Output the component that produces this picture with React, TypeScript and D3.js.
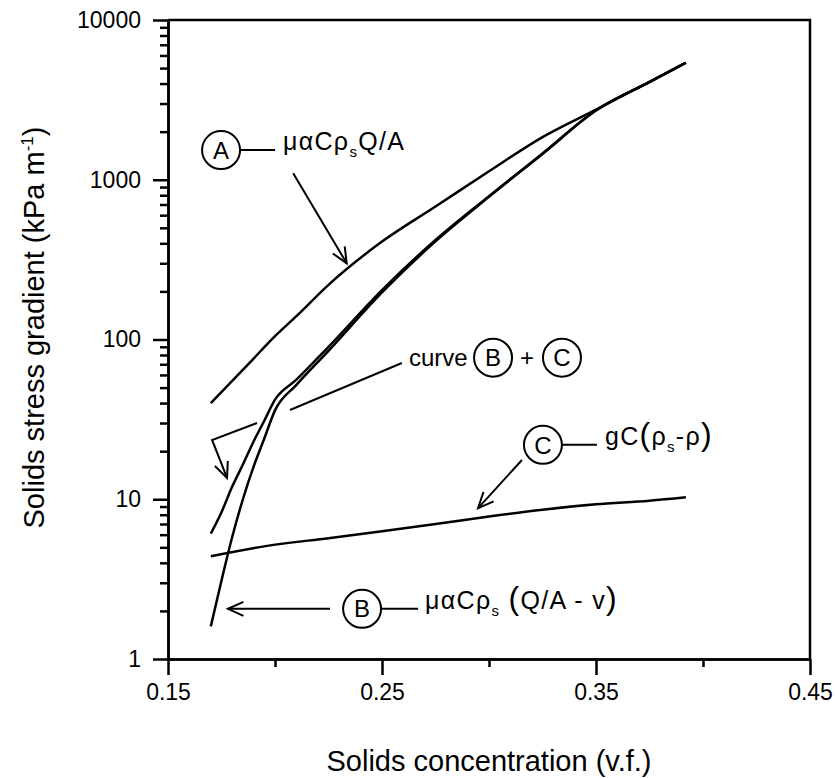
import { useEffect, useRef } from "react";
import * as d3 from "d3";

// curve A : muAlphaC rho_s Q/A
const concA = [0.17, 0.18, 0.19, 0.2, 0.21, 0.225, 0.25, 0.275, 0.3, 0.325, 0.35, 0.375, 0.392];
const gradA = [40, 55, 76, 105, 140, 220, 410, 680, 1130, 1850, 2750, 4100, 5400];

// curve B : muAlphaC rho_s (Q/A - v)
const concB = [0.17, 0.175, 0.18, 0.185, 0.19, 0.195, 0.2, 0.21, 0.225, 0.25, 0.275, 0.3, 0.325, 0.35, 0.375, 0.392];
const gradB = [1.6, 3.1, 5.8, 10, 16, 24, 36, 52, 85, 197, 412, 782, 1450, 2710, 4090, 5400];

// curve B + C
const concBC = [0.17, 0.175, 0.18, 0.185, 0.19, 0.195, 0.2, 0.21, 0.225, 0.25, 0.275, 0.3, 0.325, 0.35, 0.375, 0.392];
const gradBC = [6.1, 8.3, 12, 16.5, 23, 31, 42, 56, 90, 204, 420, 790, 1460, 2720, 4095, 5400];

// curve C : gC(rho_s - rho)
const concC = [0.17, 0.2, 0.225, 0.25, 0.275, 0.3, 0.325, 0.35, 0.375, 0.392];
const gradC = [4.4, 5.2, 5.7, 6.3, 7.0, 7.8, 8.6, 9.3, 9.8, 10.3];

const xMajor = [0.15, 0.25, 0.35, 0.45];
const xMinor = [0.2, 0.3, 0.4];
const yMajor = [1, 10, 100, 1000, 10000];
const yMinor = [1, 10, 100, 1000].flatMap((d) => [2, 3, 4, 5, 6, 7, 8, 9].map((k) => k * d));

const W = 835;
const H = 778;
const dims = { left: 168, right: 810, top: 20, bottom: 659 };
const FONT = "'Liberation Sans', Arial, sans-serif";

export default function App() {
  const ref = useRef<SVGSVGElement>(null);

  useEffect(() => {
    const svg = d3.select(ref.current);
    svg.selectAll("*").remove();

    const x = d3.scaleLinear().domain([0.15, 0.45]).range([dims.left, dims.right]);
    const y = d3.scaleLog().domain([1, 10000]).range([dims.bottom, dims.top]);

    // frame top + right
    svg
      .append("path")
      .attr("d", `M${dims.left},${dims.top}H${dims.right}V${dims.bottom}`)
      .attr("fill", "none")
      .attr("stroke", "black")
      .attr("stroke-width", 2.5);

    const styleAxis = (g: any) => {
      g.selectAll("path,line").attr("stroke", "black").attr("stroke-width", 2.5);
      g.selectAll("text").attr("font-family", FONT).attr("font-size", 23).attr("fill", "black");
    };

    svg
      .append("g")
      .attr("transform", `translate(${dims.left},0)`)
      .call(d3.axisLeft(y).tickValues(yMinor).tickSize(8).tickSizeOuter(0).tickFormat(() => ""))
      .call(styleAxis);
    svg
      .append("g")
      .attr("transform", `translate(${dims.left},0)`)
      .call(d3.axisLeft(y).tickValues(yMajor).tickSize(15).tickSizeOuter(0).tickPadding(12).tickFormat(d3.format("d")))
      .call(styleAxis);

    svg
      .append("g")
      .attr("transform", `translate(0,${dims.bottom})`)
      .call(d3.axisBottom(x).tickValues(xMinor).tickSize(8).tickSizeOuter(0).tickFormat(() => ""))
      .call(styleAxis);
    svg
      .append("g")
      .attr("transform", `translate(0,${dims.bottom})`)
      .call(d3.axisBottom(x).tickValues(xMajor).tickSize(16).tickSizeOuter(0).tickPadding(9).tickFormat(d3.format(".2f")))
      .call(styleAxis);

    // axis titles
    svg
      .append("text")
      .attr("x", (dims.left + dims.right) / 2)
      .attr("y", 771)
      .attr("text-anchor", "middle")
      .attr("font-family", FONT)
      .attr("font-size", 29)
      .text("Solids concentration (v.f.)");

    const yt = svg
      .append("text")
      .attr("transform", `translate(44,${(dims.top + dims.bottom) / 2 - 12}) rotate(-90)`)
      .attr("text-anchor", "middle")
      .attr("font-family", FONT)
      .attr("font-size", 29);
    yt.append("tspan").text("Solids stress gradient (kPa m");
    yt.append("tspan").attr("font-size", 17).attr("dy", -11).text("-1");
    yt.append("tspan").attr("dy", 11).text(")");

    // curves
    const line = d3
      .line<[number, number]>()
      .x((d) => x(d[0]))
      .y((d) => y(d[1]))
      .curve(d3.curveMonotoneX);

    const series: [number[], number[]][] = [
      [concA, gradA],
      [concB, gradB],
      [concBC, gradBC],
      [concC, gradC],
    ];
    series.forEach(([xs, ys]) => {
      svg
        .append("path")
        .attr("d", line(xs.map((v, i) => [v, ys[i]] as [number, number])))
        .attr("fill", "none")
        .attr("stroke", "black")
        .attr("stroke-width", 2.5)
        .attr("stroke-linejoin", "round");
    });

    // annotations
    const stroke = (sel: any) => sel.attr("stroke", "black").attr("stroke-width", 2).attr("fill", "none");

    const arrowHead = (x0: number, y0: number, x1: number, y1: number) => {
      const a = Math.atan2(y1 - y0, x1 - x0);
      const len = 17;
      const spread = 0.42;
      const p1 = [x1 - len * Math.cos(a - spread), y1 - len * Math.sin(a - spread)];
      const p2 = [x1 - len * Math.cos(a + spread), y1 - len * Math.sin(a + spread)];
      svg
        .append("path")
        .attr("d", `M${p1[0]},${p1[1]}L${x1},${y1}L${p2[0]},${p2[1]}`)
        .call(stroke);
    };

    const arrow = (pts: [number, number][]) => {
      const px = pts.map((p) => [x(p[0]), y(p[1])]);
      svg
        .append("path")
        .attr("d", d3.line()(px as [number, number][]))
        .call(stroke);
      const n = px.length;
      arrowHead(px[n - 2][0], px[n - 2][1], px[n - 1][0], px[n - 1][1]);
    };

    const circled = (cx: number, cy: number, letter: string) => {
      svg.append("circle").attr("cx", cx).attr("cy", cy).attr("r", 19).call(stroke);
      svg
        .append("text")
        .attr("x", cx)
        .attr("y", cy)
        .attr("dy", "0.36em")
        .attr("text-anchor", "middle")
        .attr("font-family", FONT)
        .attr("font-size", 24)
        .text(letter);
    };

    type Part = { t: string; sub?: boolean; big?: boolean };
    const formula = (tx: number, ty: number, parts: Part[]) => {
      const t = svg
        .append("text")
        .attr("x", tx)
        .attr("y", ty)
        .attr("dy", "0.36em")
        .attr("font-family", FONT)
        .attr("font-size", 25)
        .attr("letter-spacing", 1.3);
      let shifted = 0;
      parts.forEach((p) => {
        const s = t.append("tspan").text(p.t);
        const want = p.sub ? 7 : 0;
        s.attr("dy", want - shifted);
        shifted = want;
        if (p.sub) s.attr("font-size", 15);
        if (p.big) s.attr("font-size", 32);
      });
    };

    // A
    {
      const cx = x(0.1748);
      const cy = y(1535);
      circled(cx, cy, "A");
      svg.append("line").attr("x1", cx + 19).attr("y1", cy).attr("x2", cx + 54).attr("y2", cy).call(stroke);
      formula(cx + 62, cy, [{ t: "μαCρ" }, { t: "s", sub: true }, { t: "Q/A" }]);
      arrow([
        [0.2085, 1100],
        [0.2335, 300],
      ]);
    }

    // B + C
    {
      const cy = y(77);
      svg
        .append("text")
        .attr("x", x(0.2626))
        .attr("y", cy)
        .attr("dy", "0.36em")
        .attr("font-family", FONT)
        .attr("font-size", 24)
        .text("curve");
      circled(x(0.3019), cy, "B");
      svg
        .append("text")
        .attr("x", x(0.3178))
        .attr("y", cy)
        .attr("dy", "0.36em")
        .attr("text-anchor", "middle")
        .attr("font-family", FONT)
        .attr("font-size", 24)
        .text("+");
      circled(x(0.3341), cy, "C");
      svg
        .append("line")
        .attr("x1", x(0.207))
        .attr("y1", y(36.2))
        .attr("x2", x(0.2593))
        .attr("y2", y(71.3))
        .call(stroke);
      arrow([
        [0.1916, 30],
        [0.1706, 23.5],
        [0.1776, 13.6],
      ]);
    }

    // C
    {
      const cx = x(0.3252);
      const cy = y(21.9);
      circled(cx, cy, "C");
      svg.append("line").attr("x1", cx + 19).attr("y1", cy).attr("x2", cx + 54).attr("y2", cy).call(stroke);
      formula(cx + 62, cy, [{ t: "gC" }, { t: "(", big: true }, { t: "ρ" }, { t: "s", sub: true }, { t: "-ρ" }, { t: ")", big: true }]);
      arrow([
        [0.3154, 17.6],
        [0.2949, 8.8],
      ]);
    }

    // B
    {
      const cx = x(0.2407);
      const cy = y(2.06);
      circled(cx, cy, "B");
      svg.append("line").attr("x1", cx + 19).attr("y1", cy).attr("x2", cx + 56).attr("y2", cy).call(stroke);
      formula(cx + 63, cy, [
        { t: "μαCρ" },
        { t: "s", sub: true },
        { t: " " },
        { t: "(", big: true },
        { t: "Q/A - v" },
        { t: ")", big: true },
      ]);
      arrow([
        [0.2257, 2.06],
        [0.178, 2.06],
      ]);
    }
  }, []);

  return (
    <div style={{ position: "absolute", left: 0, top: 0, background: "white" }}>
      <svg ref={ref} width={W} height={H} />
    </div>
  );
}
